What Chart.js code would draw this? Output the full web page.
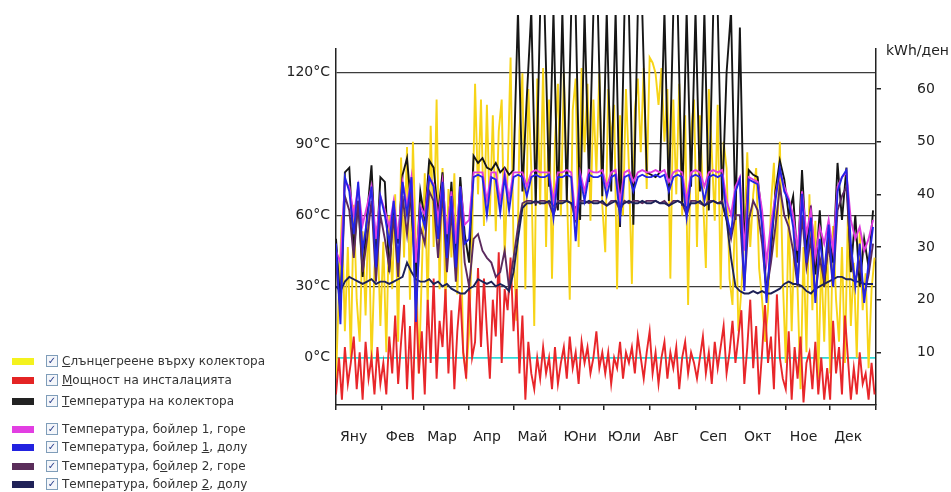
<!DOCTYPE html>
<html>
<head>
<meta charset="utf-8">
<script src="https://cdn.jsdelivr.net/npm/chart.js@4"></script>
<style>
  body { margin: 0; background: #fff; }
  #wrap { position: relative; width: 951px; height: 492px; }
  #legend { position: absolute; left: 0; top: 0; font: 12px "DejaVu Sans", sans-serif; color: #333; }
  .row { position: absolute; left: 12px; height: 14px; display: flex; align-items: center; white-space: nowrap; }
  .sw { width: 22px; height: 7px; margin-right: 12px; }
  .cb { box-sizing: border-box; width: 12px; height: 12px; border: 1px solid #7f9db9; background: #f4f6fa;
        color: #2b3f8c; font-size: 10px; line-height: 10px; text-align: center; margin-right: 4px; }
</style>
</head>
<body>
<div id="wrap">
  <canvas id="chart" width="951" height="492"></canvas>
  <div id="legend"></div>
</div>
<script>
// sample day of year for the temperature series (every 3rd day)
const days = [0,3,6,9,12,15,18,21,24,27,30,33,36,39,42,45,48,51,54,57,60,63,66,69,72,75,78,81,84,87,
  90,93,96,99,102,105,108,111,114,117,120,123,126,129,132,135,138,141,144,147,150,153,156,159,162,165,168,171,174,177,
  180,183,186,189,192,195,198,201,204,207,210,213,216,219,222,225,228,231,234,237,240,243,246,249,252,255,258,261,264,267,
  270,273,276,279,282,285,288,291,294,297,300,303,306,309,312,315,318,321,324,327,330,333,336,339,342,345,348,351,354,357,360,363];

// sample day of year for the kWh series (every 2nd day)
const energyDays = [0,2,4,6,8,10,12,14,16,18,20,22,24,26,28,30,32,34,36,38,40,42,44,46,48,50,52,54,56,58,
  60,62,64,66,68,70,72,74,76,78,80,82,84,86,88,90,92,94,96,98,100,102,104,106,108,110,112,114,116,118,
  120,122,124,126,128,130,132,134,136,138,140,142,144,146,148,150,152,154,156,158,160,162,164,166,168,170,172,174,176,178,
  180,182,184,186,188,190,192,194,196,198,200,202,204,206,208,210,212,214,216,218,220,222,224,226,228,230,232,234,236,238,
  240,242,244,246,248,250,252,254,256,258,260,262,264,266,268,270,272,274,276,278,280,282,284,286,288,290,292,294,296,298,
  300,302,304,306,308,310,312,314,316,318,320,322,324,326,328,330,332,334,336,338,340,342,344,346,348,350,352,354,356,358,
  360,362,364];

const monthStarts = [0, 31, 59, 90, 120, 151, 181, 212, 243, 273, 304, 334, 365];
const monthLabels = ['Яну', 'Фев', 'Мар', 'Апр', 'Май', 'Юни', 'Юли', 'Авг', 'Сеп', 'Окт', 'Ное', 'Дек'];
const tempTicks = [0, 30, 60, 90, 120];
const energyTicks = [10, 20, 30, 40, 50, 60];

// kWh/ден
const irradiance = [5,22,36,14,30,9,38,20,12,33,17,37,8,26,34,15,
  31,10,36,22,40,12,47,28,49,20,50,30,6,25,
  44,18,53,30,58,22,45,19,41,28,44,21,38,10,6,
  14,32,61,40,58,34,57,36,55,33,52,58,28,44,66,
  30,16,52,63,22,60,45,15,62,38,64,30,58,24,50,61,
  36,63,42,20,56,62,30,64,48,61,35,58,44,63,38,
  29,60,50,57,22,55,36,60,45,23,56,62,48,64,41,
  66,65,63,57,64,50,60,24,58,40,61,36,55,19,52,58,
  30,55,40,26,60,48,35,57,22,50,45,24,19,40,14,
  22,32,48,30,40,45,26,20,12,18,38,46,28,50,24,
  8,37,14,33,22,3,30,10,40,18,35,5,28,12,31,
  6,34,20,12,30,8,36,15,27,9,33,18,25,7,22,28];
const power = [2,9,1,11,4,8,13,3,10,1,12,5,9,2,11,4,
  8,2,13,6,17,4,12,19,3,15,1,21,6,14,
  2,20,8,24,5,16,11,22,6,18,3,14,21,10,5,
  23,9,12,26,11,24,14,5,20,13,29,8,22,18,28,
  14,22,6,17,1,12,6,3,9,5,11,6,9,3,11,4,
  8,11,5,13,7,10,4,12,8,11,6,9,14,7,10,
  6,10,4,9,7,12,5,10,8,11,6,13,9,5,10,
  14,6,10,4,9,12,5,10,7,11,3,9,12,6,10,8,
  5,9,13,6,10,4,12,7,11,15,6,10,16,8,13,
  18,4,11,20,7,15,2,10,19,8,13,3,21,9,5,
  3,14,1,11,5,13,0.5,8,10,3,12,2,9,1,7,
  1,16,6,11,2,17,9,1,7,2,10,4,6,1,8,2];

// °C
const collector = [50,22,78,80,45,66,34,60,81,40,76, 74,36,64,48,77,84,62,34,70, 58,83,80,60,78,44,74,40,76,52,
  40,85,82,84,80,79,82,78,80,77, 79,146,70,110,146,64,146,146,72,146,62, 146,66,146,146,58,146,74,146,146,68,
  146,70,146,55,146,146,56,146,146,78, 77,76,78,146,66,146,146,64,146,72, 146,70,146,62,146,146,65,120,146,58,
  139,46,79,77,76,58,27,44,70,83,75, 60,68,40,79,45,64,35,62,30,52, 40,82,58,80,36,60,30,50,38,62];
const boiler1Top = [45,40,74,72,60,72,56,64,72,50,68, 62,55,66,50,74,64,76,40,64, 60,76,73,58,74,52,70,48,72,56,
  58,78,78,78,66,78,78,66,78,67, 78,78,78,72,78,79,78,78,78,66,78, 78,79,78,58,78,70,79,78,78,79,
  72,78,79,66,78,79,74,78,79,78, 78,79,78,79,74,78,79,78,66,78, 79,78,72,78,79,78,79,66,60,72,
  76,45,76,75,74,62,40,56,68,78,72, 67,60,45,70,52,62,42,55,48,58, 45,72,76,78,58,50,55,45,50,58];
const boiler1Bottom = [48,14,76,70,52,74,45,58,72,38,68, 60,48,66,40,74,60,76,15,62, 55,76,72,50,74,42,68,38,72,48,
  50,76,77,76,60,76,75,61,76,62, 76,77,76,68,76,77,76,76,77,59,76, 76,77,76,49,76,66,77,76,76,77,
  68,76,77,59,76,77,70,76,77,76, 76,77,76,77,70,76,77,76,59,76, 77,76,66,76,77,76,77,60,52,70,
  75,28,75,74,73,55,23,50,66,80,70, 66,55,31,69,40,59,23,50,35,56, 30,70,76,79,48,30,48,23,40,55];
const boiler2Top = [40,20,68,62,42,66,36,50,66,32,60, 50,38,60,34,68,52,72,20,55, 48,70,66,42,70,36,62,32,66,40,
  30,50,52,45,42,40,34,36,45,29, 42,55,65,66,66,65,66,66,65,60,66, 66,66,65,58,66,66,65,66,66,65,
  64,66,66,62,66,65,66,66,65,66, 66,66,65,66,64,66,66,65,60,66, 66,65,64,66,66,65,66,58,50,60,
  60,30,58,66,62,48,28,40,55,72,60, 55,45,30,60,38,50,26,42,32,48, 30,62,68,72,42,32,40,26,35,48];
const boiler2Bottom = [30,28,32,34,33,32,31,32,33,31,32, 32,31,32,33,34,40,36,33,32, 32,33,31,32,30,31,29,28,27,27,
  29,30,33,32,31,32,30,31,30,28, 36,50,63,65,65,66,65,65,66,64,65, 65,66,65,63,65,65,66,65,65,66,
  64,65,66,64,65,66,65,65,66,65, 65,66,65,65,64,65,66,65,63,65, 65,66,64,65,66,65,65,58,42,30,
  28,27,27,28,27,28,27,27,28,29,31, 32,31,31,30,28,27,29,30,31,32, 33,34,34,33,33,32,32,31,31,31];

const legendItems = [
  { html: '<u>С</u>лънцегреене върху колектора', color: '#f4f21e', top: 354 },
  { html: '<u>М</u>ощност на инсталацията', color: '#e42424', top: 373 },
  { html: '<u>Т</u>емпература на колектора', color: '#222222', top: 394 },
  { html: 'Температура, бойлер 1, горе', color: '#e23ee2', top: 422 },
  { html: 'Температура, бойлер <u>1</u>, долу', color: '#2222e0', top: 440 },
  { html: 'Температура, б<u>о</u>йлер 2, горе', color: '#5a2d5a', top: 459 },
  { html: 'Температура, бойлер <u>2</u>, долу', color: '#202258', top: 477 }
];

const legend = document.getElementById('legend');
legendItems.forEach(item => {
  const row = document.createElement('div');
  row.className = 'row';
  row.style.top = item.top + 'px';
  row.innerHTML = '<span class="sw" style="background:' + item.color + '"></span>' +
    '<span class="cb">✓</span><span>' + item.html + '</span>';
  legend.appendChild(row);
});

function line(label, values, color, axis, order) {
  return {
    label: label,
    data: values,
    borderColor: color,
    backgroundColor: color,
    borderWidth: 1.9,
    pointRadius: 0,
    tension: 0,
    yAxisID: axis,
    order: order,
    clip: { left: 0, top: 34, right: 0, bottom: 2 }
  };
}

// kWh series have their own day grid
function energyLine(label, values, color, order) {
  const ds = line(label, energyDays.map((d, i) => ({ x: d, y: values[i] })), color, 'y1', order);
  return ds;
}

const axisTitle = {
  id: 'axisTitle',
  afterDraw(chart) {
    const s = chart.scales.y1;
    const ctx = chart.ctx;
    ctx.save();
    ctx.font = '14px "DejaVu Sans"';
    ctx.fillStyle = '#222';
    ctx.textBaseline = 'middle';
    ctx.fillText('kWh/ден', s.left + 10, s.top + 2);
    ctx.restore();
  }
};

Chart.defaults.font.family = '"DejaVu Sans", sans-serif';
Chart.defaults.font.size = 14;
Chart.defaults.color = '#222';

new Chart(document.getElementById('chart'), {
  type: 'line',
  data: {
    labels: days,
    datasets: [
      line('Температура, бойлер 1, долу', boiler1Bottom, '#2424e6', 'y', 1),
      line('Температура, бойлер 1, горе', boiler1Top, '#e03ce0', 'y', 2),
      line('Температура, бойлер 2, долу', boiler2Bottom, '#1d2157', 'y', 3),
      line('Температура, бойлер 2, горе', boiler2Top, '#5b2a5e', 'y', 4),
      line('Температура на колектора', collector, '#161616', 'y', 5),
      energyLine('Мощност на инсталацията', power, '#e8262a', 6),
      energyLine('Слънцегреене върху колектора', irradiance, '#f7d417', 7)
    ]
  },
  options: {
    responsive: false,
    animation: false,
    devicePixelRatio: 1,
    layout: { padding: { top: 49, left: 0, right: 0, bottom: 0 } },
    plugins: { legend: { display: false }, tooltip: { enabled: false } },
    scales: {
      x: {
        type: 'linear', min: 0, max: 365,
        afterBuildTicks: s => { s.ticks = monthStarts.map(v => ({ value: v })); },
        afterFit: s => { s.height = 87; },
        grid: { drawOnChartArea: false, tickLength: 5, color: '#222', lineWidth: 1.5 },
        border: { color: '#222', width: 1.5 },
        ticks: {
          align: 'start', labelOffset: 4, padding: 19, autoSkip: false, maxRotation: 0,
          callback: (v, i) => monthLabels[i] || ''
        }
      },
      y: {
        position: 'left', min: -20, max: 130,
        afterBuildTicks: s => { s.ticks = tempTicks.map(v => ({ value: v })); },
        afterFit: s => { s.width = 336; },
        grid: {
          drawTicks: false,
          color: c => (c.tick && c.tick.value === 0) ? '#2fd8d8' : '#3c3c3c',
          lineWidth: c => (c.tick && c.tick.value === 0) ? 1.8 : 1.2
        },
        border: { color: '#222', width: 1.5 },
        ticks: { padding: 6, callback: v => v + '°C' }
      },
      y1: {
        position: 'right', min: 0, max: 67.6,
        afterBuildTicks: s => { s.ticks = energyTicks.map(v => ({ value: v })); },
        afterFit: s => { s.width = 75; },
        grid: { drawOnChartArea: false, tickLength: 5, color: '#222', lineWidth: 1.5 },
        border: { color: '#222', width: 1.5 },
        ticks: { padding: 36 }
      }
    }
  },
  plugins: [axisTitle]
});
</script>
</body>
</html>
